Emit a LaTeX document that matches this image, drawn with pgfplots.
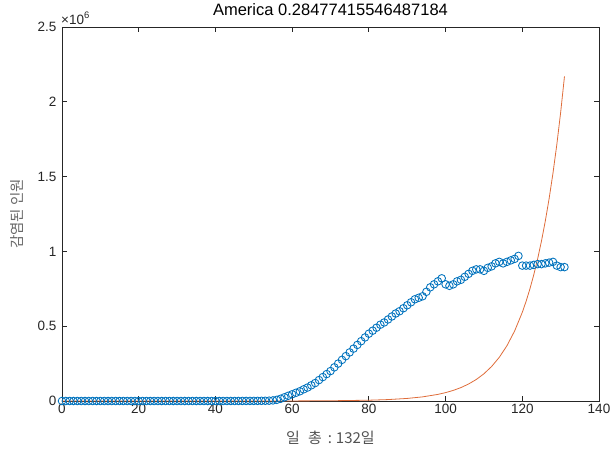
\documentclass[border=0pt]{standalone}
\usepackage{fontspec}
\setmainfont{Liberation Sans}
\newfontfamily\kr{Noto Sans CJK KR}
\usepackage{pgfplots}
\pgfplotsset{compat=1.18}
\usepackage{pgfplotstable}
\usetikzlibrary{calc}
\definecolor{mblue}{rgb}{0,0.447,0.741}
\definecolor{morange}{rgb}{0.85,0.325,0.098}
\definecolor{axgray}{rgb}{0.15,0.15,0.15}

% day, infected
\pgfplotstableread{
x y
0 0
1 0
2 0
3 0
4 0
5 0
6 0
7 0
8 0
9 0
10 0
11 0
12 0
13 0
14 0
15 0
16 0
17 0
18 0
19 0
20 0
21 0
22 0
23 0
24 0
25 0
26 0
27 0
28 0
29 0
30 0
31 0
32 0
33 0
34 0
35 0
36 0
37 0
38 0
39 0
40 50
41 60
42 70
43 90
44 120
45 150
46 200
47 300
48 400
49 500
50 700
51 900
52 1200
53 1600
54 2200
55 4000
56 8000
57 15000
58 25000
59 35000
60 45000
61 55000
62 65000
63 78000
64 90000
65 105000
66 120000
67 140000
68 160000
69 180000
70 200000
71 225000
72 250000
73 275000
74 300000
75 325000
76 350000
77 375000
78 400000
79 425000
80 450000
81 470000
82 490000
83 510000
84 525000
85 545000
86 565000
87 585000
88 600000
89 620000
90 640000
91 660000
92 680000
93 690000
94 700000
95 730000
96 760000
97 780000
98 800000
99 820000
100 780000
101 770000
102 780000
103 800000
104 810000
105 830000
106 850000
107 870000
108 880000
109 880000
110 870000
111 890000
112 900000
113 920000
114 930000
115 920000
116 930000
117 940000
118 950000
119 970000
120 905000
121 905000
122 905000
123 910000
124 915000
125 915000
126 920000
127 925000
128 930000
129 905000
130 895000
131 895000
}\cases

% fitted curve
\pgfplotstableread{
x y
0 0
20 4
40 47
60 500
70 1630
80 5270
85 9530
90 17200
94 27600
98 44200
100 55970
102 70850
104 89700
106 113600
108 143800
110 182100
112 230500
114 291900
116 369600
118 468000
120 592600
121 666900
122 750400
123 844400
124 950000
125 1069000
126 1202800
127 1353700
128 1523100
129 1713900
130 1928500
131 2170000
}\fit

\begin{document}
\begin{tikzpicture}
\useasboundingbox (-62pt,-49pt) rectangle (551pt,401pt);
\begin{axis}[
  scale only axis,
  width=537pt, height=374pt,
  xmin=0, xmax=140,
  ymin=0, ymax=2500000,
  xtick={0,20,...,140},
  ytick={0,500000,1000000,1500000,2000000,2500000},
  scaled y ticks=base 10:-6,
  ytick scale label code/.code={×10\textsuperscript{6}},
  every y tick scale label/.style={at={(rel axis cs:0,1)}, anchor=base west,
    inner sep=0pt, xshift=1pt, yshift=3pt,
    font=\fontsize{13.5}{16}\selectfont, text=axgray},
  /pgf/number format/assume math mode=true,
  tick align=inside,
  major tick length=5pt,
  axis line style={axgray, line width=0.8pt},
  every tick/.style={axgray, line width=0.8pt},
  tick label style={font=\fontsize{13.5}{16}\selectfont, text=axgray},
  yticklabel style={xshift=-2pt},
  title={America 0.28477415546487184},
  title style={at={(0.5,1)}, anchor=base, yshift=6pt,
    font=\fontsize{16.5}{19}\selectfont, text=black},
  xlabel={{\kr 일\hspace{8pt}총\hspace{6pt}:\hspace{4pt}132일}},
  xlabel style={at={($(rel axis cs:0.5,0)+(0pt,-42pt)$)}, anchor=base,
    font=\fontsize{15}{17}\selectfont, text=axgray!80},
  ylabel={{\kr 감염된 인원}},
  ylabel style={at={($(rel axis cs:0,0.5)+(-45pt,0pt)$)}, anchor=center,
    font=\fontsize{14.5}{16}\selectfont, text=axgray!70},
  clip=false,
]
\addplot[only marks, mark=o, mark size=3.8pt,
  mark options={draw=mblue, line width=0.85pt}] table[x=x, y=y] {\cases};
\addplot[morange!85!white, line width=0.8pt, no marks] table[x=x, y=y] {\fit};
\end{axis}
\end{tikzpicture}
\end{document}
